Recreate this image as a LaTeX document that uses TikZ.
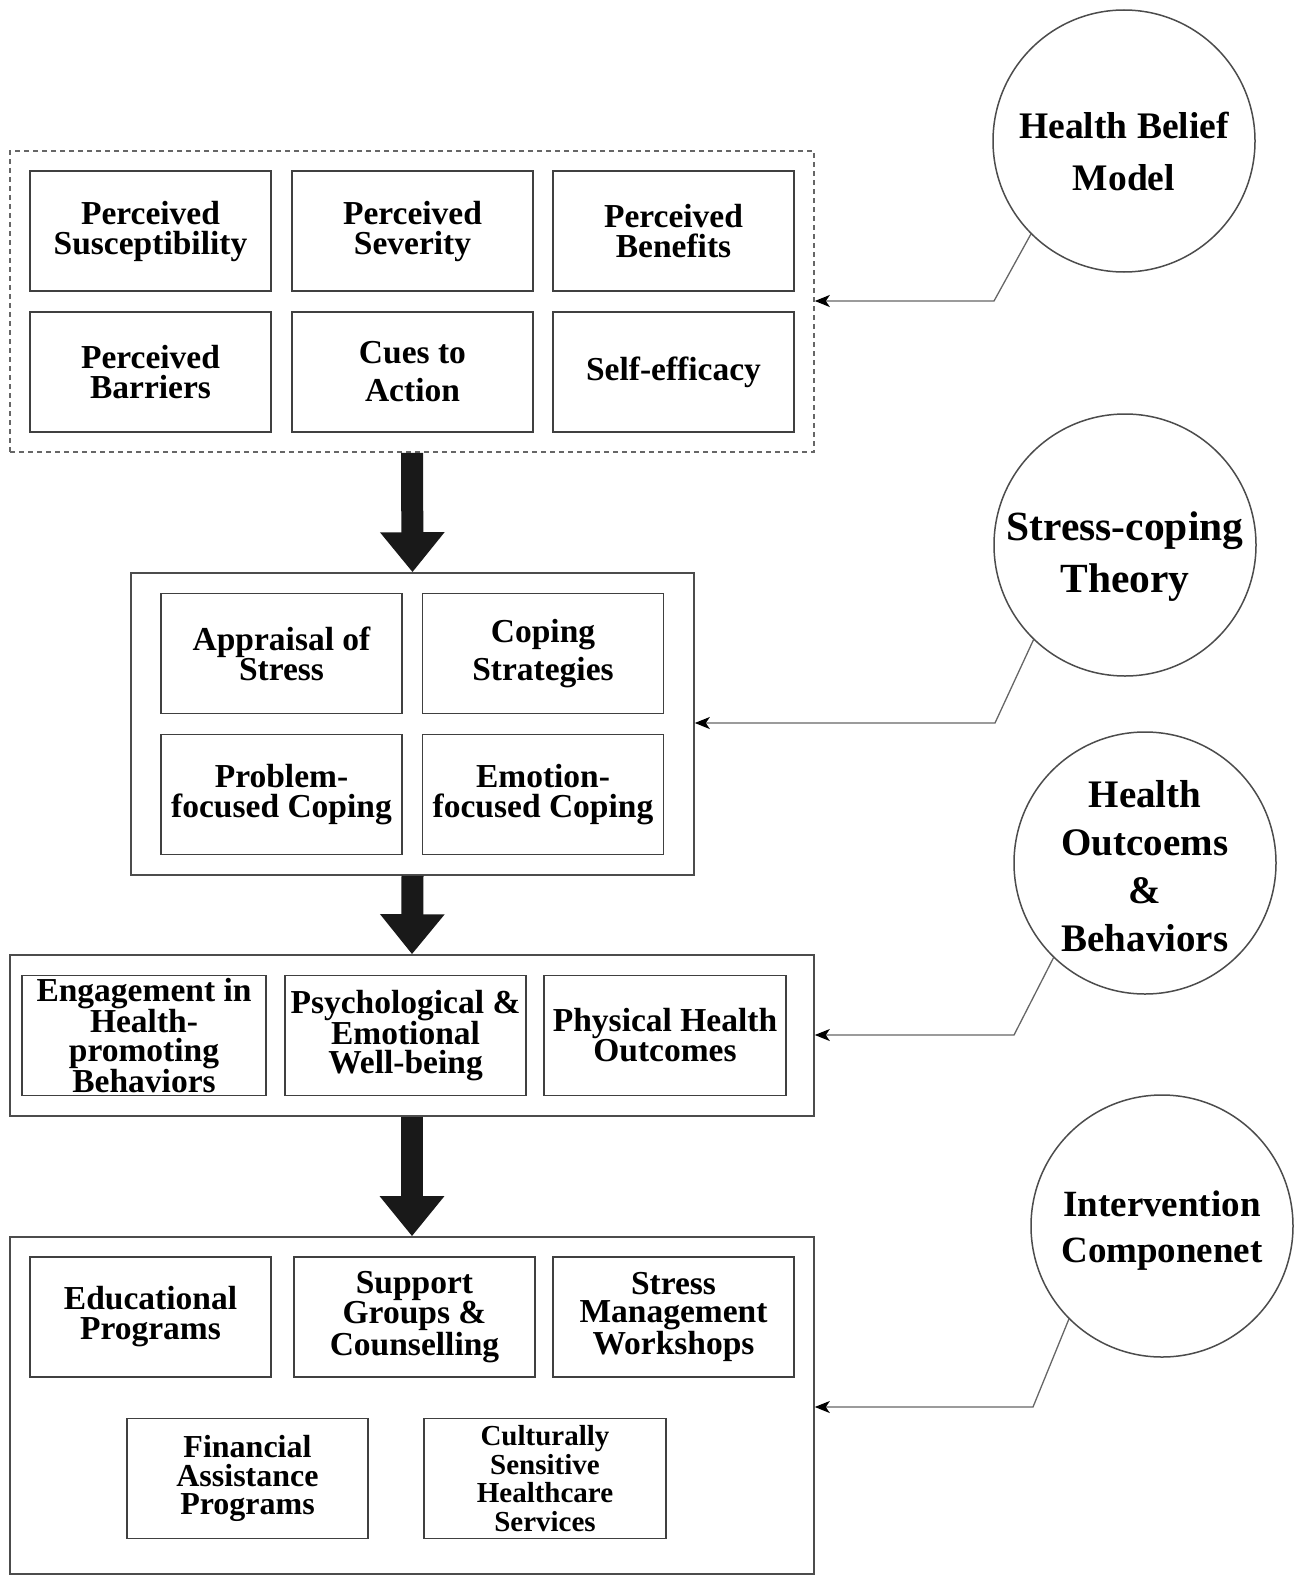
\documentclass[tikz,border=0pt]{standalone}
\usepackage{fontspec}
\setmainfont{Liberation Serif}
\usetikzlibrary{arrows.meta}
\begin{document}
\begin{tikzpicture}[x=1pt,y=-1pt,
  inbox/.style={draw=black!75,line width=1.8pt,minimum width=241pt,minimum height=120pt,inner sep=0pt,align=center,font=\bfseries\fontsize{33.5}{30}\selectfont},
  grp/.style={draw=black!70,line width=1.6pt,inner sep=0pt},
  circ/.style={draw=black!70,line width=1.5pt,circle,minimum size=262pt,inner sep=0pt},
  ctext/.style={align=center,inner sep=0pt},
  conn/.style={draw=black!60,line width=1.3pt,-{Stealth[length=15pt,width=12pt,inset=4pt,black]}},
  bigarr/.style={draw=black!90,line width=22pt,-{Triangle[length=40pt,width=62pt,black!90]}}
]
\useasboundingbox (0,0) rectangle (1295,1576);

% group 1
\node[grp,draw=black!60,dash pattern=on 5pt off 4pt,minimum width=804pt,minimum height=301pt] (g1) at (412,301.5) {};
\node[inbox] (ps) at (150.5,231) {Perceived\\Susceptibility};
\node[inbox] (pv) at (412.5,231) {Perceived\\Severity};
\node[inbox] (pb) at (673.5,231) {Perceived\\Benefits};
\node[inbox] (pr) at (150.5,372) {Perceived\\Barriers};
\node[inbox,font=\bfseries\fontsize{33.5}{38}\selectfont] (ca) at (412.5,372) {Cues to\\Action};
\node[inbox] (se) at (673.5,372) {Self-efficacy};

% group 2
\node[grp,minimum width=563pt,minimum height=302pt] (g2) at (412.5,724) {};
\node[inbox] (as) at (281.5,653.5) {Appraisal of\\Stress};
\node[inbox,font=\bfseries\fontsize{33.5}{38}\selectfont] (cs) at (543,653.5) {Coping\\Strategies};
\node[inbox] (pf) at (281.5,794.5) {Problem-\\focused Coping};
\node[inbox] (ef) at (543,794.5) {Emotion-\\focused Coping};

% group 3
\node[grp,minimum width=804pt,minimum height=161pt] (g3) at (412,1035.5) {};
\node[inbox,minimum width=244pt,font=\bfseries\fontsize{33.5}{28.5}\selectfont] (eh) at (144,1035.5) {Engagement in\\Health-\\promoting\\Behaviors};
\node[inbox,font=\bfseries\fontsize{33.5}{29}\selectfont] (pe) at (405.5,1035.5) {Psychological \&\\Emotional\\Well-being};
\node[inbox,minimum width=242pt] (ph) at (665,1035.5) {Physical Health\\Outcomes};

% group 4
\node[grp,minimum width=804pt,minimum height=337pt] (g4) at (412,1405.5) {};
\node[inbox] (ep) at (150.5,1317) {Educational\\Programs};
\node[inbox,font=\bfseries\fontsize{33.5}{28.5}\selectfont] (sg) at (414.5,1317) {Support\\Groups \&\\Counselling};
\node[inbox,font=\bfseries\fontsize{33.5}{28.5}\selectfont] (sm) at (673.5,1317) {Stress\\Management\\Workshops};
\node[inbox,font=\bfseries\fontsize{32}{28.5}\selectfont] (fa) at (247.5,1478.5) {Financial\\Assistance\\Programs};
\node[inbox,minimum width=242pt,font=\bfseries\fontsize{29}{28.5}\selectfont] (cu) at (545,1478.5) {Culturally\\Sensitive\\Healthcare\\Services};

% big arrows
\draw[bigarr] (g1.south) -- (g2.north);
\draw[bigarr] (g2.south) -- (g3.north);
\draw[bigarr] (g3.south) -- (g4.north);

% circles
\node[circ,label={[ctext,yshift=-10pt,font=\bfseries\fontsize{37.5}{52}\selectfont]center:Health Belief\\Model}] (hbm) at (1124,141) {};
\node[circ,label={[ctext,yshift=-12pt,font=\bfseries\fontsize{41.5}{52}\selectfont]center:Stress-coping\\Theory}] (sct) at (1125,545) {};
\node[circ,label={[ctext,yshift=-3pt,font=\bfseries\fontsize{39}{48}\selectfont]center:Health\\Outcoems\\\&\\Behaviors}] (hob) at (1145,863) {};
\node[circ,label={[ctext,yshift=-5pt,font=\bfseries\fontsize{37}{46}\selectfont]center:Intervention\\Componenet}] (ic) at (1162,1226) {};

% connectors
\coordinate (k1) at (994,301);
\coordinate (k2) at (995,723);
\coordinate (k3) at (1014,1035);
\coordinate (k4) at (1033,1407);
\draw[conn] (hbm.225) -- (k1) -- (k1 -| g1.east);
\draw[conn] (sct.226) -- (k2) -- (k2 -| g2.east);
\draw[conn] (hob.226) -- (k3) -- (k3 -| g3.east);
\draw[conn] (ic.225) -- (k4) -- (k4 -| g4.east);
\end{tikzpicture}
\end{document}
